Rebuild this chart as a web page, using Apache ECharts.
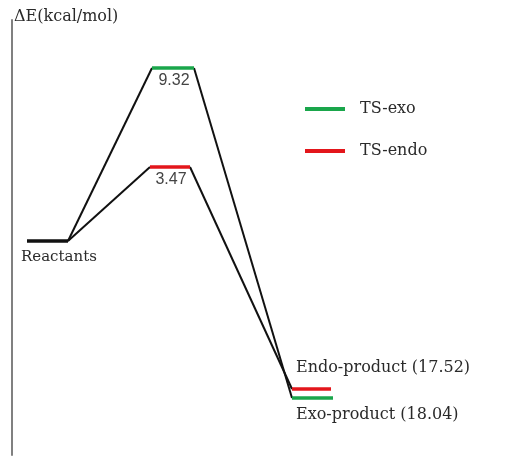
<!DOCTYPE html>
<html>
<head>
<meta charset="utf-8">
<title>Energy profile</title>
<script src="https://cdn.jsdelivr.net/npm/echarts@6/dist/echarts.min.js"></script>
<style>
  html, body { margin: 0; padding: 0; background: #fff; }
  #chart { width: 527px; height: 456px; }
</style>
</head>
<body>
<div id="chart"></div>
<script>
// levels of the diagram (drawn height, not to scale with the energies)
const levelNames = ['Reactants', 'TS-exo', 'TS-endo', 'Endo-product', 'Exo-product'];
const levelSeries = ['Reactants', 'TS-exo', 'TS-endo', 'TS-endo', 'TS-exo'];
const levelY = [0, 17.3, 7.4, -14.8, -15.7];
const levelStart = [15, 140, 138, 280, 280];
const levelEnd = [56, 182, 178, 319, 321];
const energyLabels = ['Reactants', '9.32', '3.47', 'Endo-product (17.52)', 'Exo-product (18.04)'];

// which levels are joined by the black paths
const paths = [[0, 1], [0, 2], [1, 4], [2, 3]];

const colors = {
  'Reactants': '#111111',
  'TS-exo': '#1aa64b',
  'TS-endo': '#e3161b',
};

const chart = echarts.init(document.getElementById('chart'), null, { renderer: 'canvas' });

const series = [];

// connecting paths first so the levels sit on top
paths.forEach(([a, b]) => {
  series.push({
    name: 'path',
    type: 'line',
    symbol: 'none',
    silent: true,
    z: 1,
    lineStyle: { color: '#111', width: 2 },
    data: [[levelEnd[a], levelY[a]], [levelStart[b], levelY[b]]],
  });
});

levelNames.forEach((name, i) => {
  const s = levelSeries[i];
  series.push({
    name: s,
    type: 'line',
    symbol: 'none',
    z: 3,
    itemStyle: { color: colors[s] },
    lineStyle: { color: colors[s], width: 3.5 },
    data: [[levelStart[i], levelY[i]], [levelEnd[i], levelY[i]]],
  });
});

// texts beside the levels
const serifLabel = { fontFamily: 'DejaVu Serif', fontSize: 16, color: '#2a2a2a' };
const numLabel = { fontFamily: 'Liberation Sans', fontSize: 16, color: '#444' };
const labelData = [
  { value: [levelStart[0], levelY[0]], label: { ...serifLabel, fontSize: 15, align: 'left', offset: [-6, 16] } },
  { value: [(levelStart[1] + levelEnd[1]) / 2, levelY[1]], label: { ...numLabel, align: 'center', offset: [1, 13] } },
  { value: [(levelStart[2] + levelEnd[2]) / 2, levelY[2]], label: { ...numLabel, align: 'center', offset: [1, 13] } },
  { value: [levelStart[3], levelY[3]], label: { ...serifLabel, align: 'left', offset: [4, -21] } },
  { value: [levelStart[4], levelY[4]], label: { ...serifLabel, align: 'left', offset: [4, 17] } },
];
labelData.forEach((d, i) => { d.text = energyLabels[i]; });

series.push({
  name: 'labels',
  type: 'scatter',
  symbolSize: 1,
  silent: true,
  z: 4,
  // scatter defaults to opacity 0.8, which also fades the labels
  itemStyle: { color: 'rgba(0,0,0,0)', opacity: 1 },
  label: {
    show: true,
    position: 'inside',
    verticalAlign: 'middle',
    textBorderWidth: 0,
    formatter: (p) => p.data.text,
  },
  data: labelData,
});

chart.setOption({
  animation: false,
  backgroundColor: '#fff',
  title: {
    text: 'ΔE(kcal/mol)',
    left: 14,
    top: 9,
    padding: 0,
    textStyle: { fontFamily: 'DejaVu Serif', fontSize: 16, fontWeight: 'normal', color: '#2a2a2a' },
  },
  legend: {
    data: ['TS-exo', 'TS-endo'],
    orient: 'vertical',
    left: 300,
    top: 96,
    itemWidth: 40,
    itemHeight: 4,
    itemGap: 26,
    icon: 'rect',
    selectedMode: false,
    textStyle: { fontFamily: 'DejaVu Serif', fontSize: 16, color: '#2a2a2a', padding: [0, 0, 0, 10] },
  },
  grid: { left: 12, right: 0, top: 20, bottom: 1 },
  xAxis: {
    type: 'value',
    min: 0,
    max: 515,
    show: false,
  },
  yAxis: {
    type: 'value',
    min: -21.4,
    max: 22.1,
    axisLine: { show: true, lineStyle: { color: '#808080', width: 2 } },
    axisTick: { show: false },
    axisLabel: { show: false },
    splitLine: { show: false },
  },
  series,
});
</script>
</body>
</html>
